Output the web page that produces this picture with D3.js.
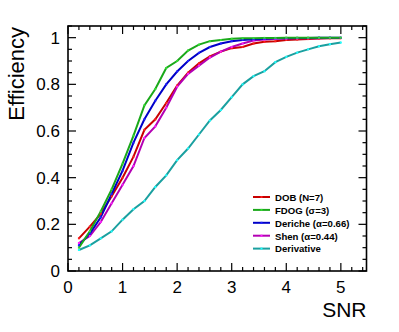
<!DOCTYPE html>
<html><head><meta charset="utf-8">
<script src="https://cdn.jsdelivr.net/npm/d3@7/dist/d3.min.js"></script>
<style>body{margin:0;background:#fff}svg{display:block;font-family:"Liberation Sans",Arial,sans-serif}</style>
</head><body><svg id="c" width="399" height="332"></svg>
<script>
const snr = [0.2,0.4,0.6,0.8,1.0,1.2,1.4,1.6,1.8,2.0,2.2,2.4,2.6,2.8,3.0,3.2,3.4,3.6,3.8,4.0,4.2,4.4,4.6,4.8,5.0];
const dob = [0.14,0.19,0.245,0.32,0.40,0.49,0.605,0.65,0.72,0.795,0.85,0.89,0.92,0.94,0.955,0.96,0.975,0.982,0.985,0.99,0.992,0.994,0.996,0.997,0.998];
const fdog = [0.10,0.17,0.255,0.35,0.46,0.58,0.71,0.78,0.87,0.90,0.945,0.97,0.985,0.99,0.995,0.997,0.998,0.999,0.999,1.0,1.0,1.0,1.0,1.0,1.0];
const deriche = [0.11,0.16,0.23,0.33,0.43,0.55,0.65,0.73,0.80,0.855,0.90,0.935,0.96,0.975,0.985,0.99,0.993,0.995,0.997,0.998,0.999,0.999,1.0,1.0,1.0];
const shen = [0.12,0.15,0.21,0.29,0.37,0.45,0.57,0.62,0.70,0.79,0.845,0.88,0.915,0.94,0.96,0.975,0.988,0.992,0.995,0.996,0.997,0.998,0.998,0.999,0.999];
const deriv = [0.09,0.11,0.14,0.17,0.22,0.265,0.30,0.36,0.41,0.475,0.525,0.585,0.645,0.69,0.745,0.80,0.835,0.856,0.895,0.918,0.936,0.95,0.963,0.972,0.979];
const seriesNames = ["DOB (N=7)","FDOG (σ=3)","Deriche (α=0.66)","Shen (α=0.44)","Derivative"];
const xTicks = [0,1,2,3,4,5];
const yTicks = [0,0.2,0.4,0.6,0.8,1];
const xTickLabels = ["0","1","2","3","4","5"];
const yTickLabels = ["0","0.2","0.4","0.6","0.8","1"];

const series = [
  {name: seriesNames[0], v: dob, line: "#c80000", mk: "#ff2020"},
  {name: seriesNames[1], v: fdog, line: "#1aa81a", mk: "#33dd33"},
  {name: seriesNames[2], v: deriche, line: "#0000c8", mk: "#2020ff"},
  {name: seriesNames[3], v: shen, line: "#b400b4", mk: "#ff20ff"},
  {name: seriesNames[4], v: deriv, line: "#1aa0a0", mk: "#20ffff"}
];

const L = 68, R = 366.5, T = 26, B = 271;
const svg = d3.select("#c");
const x = d3.scaleLinear().domain([0,5.47]).range([L,R]);
const y = d3.scaleLinear().domain([0,1.05]).range([B,T]);

// frame
svg.append("rect").attr("x",L).attr("y",T).attr("width",R-L).attr("height",B-T)
  .attr("fill","none").attr("stroke","#000").attr("stroke-width",1.6);

// ticks
const g = svg.append("g").attr("stroke","#000").attr("stroke-width",1.2);
const xMinor = d3.range(0,5.47,0.2);
xMinor.forEach(t=>{
  const major = Math.abs(t-Math.round(t))<1e-6;
  const len = major?8:4;
  g.append("line").attr("x1",x(t)).attr("x2",x(t)).attr("y1",B).attr("y2",B-len);
  g.append("line").attr("x1",x(t)).attr("x2",x(t)).attr("y1",T).attr("y2",T+len);
});
const yMinor = d3.range(0,1.051,0.05);
yMinor.forEach(t=>{
  const major = Math.abs(t*5-Math.round(t*5))<1e-6;
  const len = major?8:4;
  g.append("line").attr("x1",L).attr("x2",L+len).attr("y1",y(t)).attr("y2",y(t));
  g.append("line").attr("x1",R).attr("x2",R-len).attr("y1",y(t)).attr("y2",y(t));
});

// tick labels
xTicks.forEach((t,i)=>{
  svg.append("text").attr("x",x(t)).attr("y",293).attr("text-anchor","middle")
    .attr("font-size",17).text(xTickLabels[i]);
});
yTicks.forEach((t,i)=>{
  svg.append("text").attr("x",60).attr("y",y(t)+6).attr("text-anchor","end")
    .attr("font-size",17).text(yTickLabels[i]);
});

// axis titles
svg.append("text").attr("transform","translate(23.5,27) rotate(-90)").attr("text-anchor","end")
  .attr("font-size",22).text("Efficiency");
svg.append("text").attr("x",366.5).attr("y",317).attr("text-anchor","end")
  .attr("font-size",21).text("SNR");

// lines
const line = d3.line().x((d,i)=>x(snr[i])).y(d=>y(d));
const plot = svg.append("g");
[4,0,3,2,1].forEach(k=>{
  const s = series[k];
  plot.append("path").attr("d",line(s.v)).attr("fill","none").attr("stroke",s.line).attr("stroke-width",2);
});
[4,0,3,2,1].forEach(k=>{
  const s = series[k];
  plot.selectAll(null).data(s.v).enter().append("rect")
    .attr("x",(d,i)=>x(snr[i])-1).attr("y",d=>y(d)-1).attr("width",2).attr("height",2).attr("fill",s.mk);
});

// legend
const lg = svg.append("g");
series.forEach((s,i)=>{
  const yy = 197 + i*12.9;
  lg.append("line").attr("x1",253).attr("x2",270).attr("y1",yy).attr("y2",yy).attr("stroke",s.line).attr("stroke-width",2);
  lg.append("rect").attr("x",260.5).attr("y",yy-1).attr("width",2).attr("height",2).attr("fill",s.mk);
  lg.append("text").attr("x",275).attr("y",yy+3.8).attr("font-size",9.6).attr("font-weight","bold").text(s.name);
});
</script></body></html>
